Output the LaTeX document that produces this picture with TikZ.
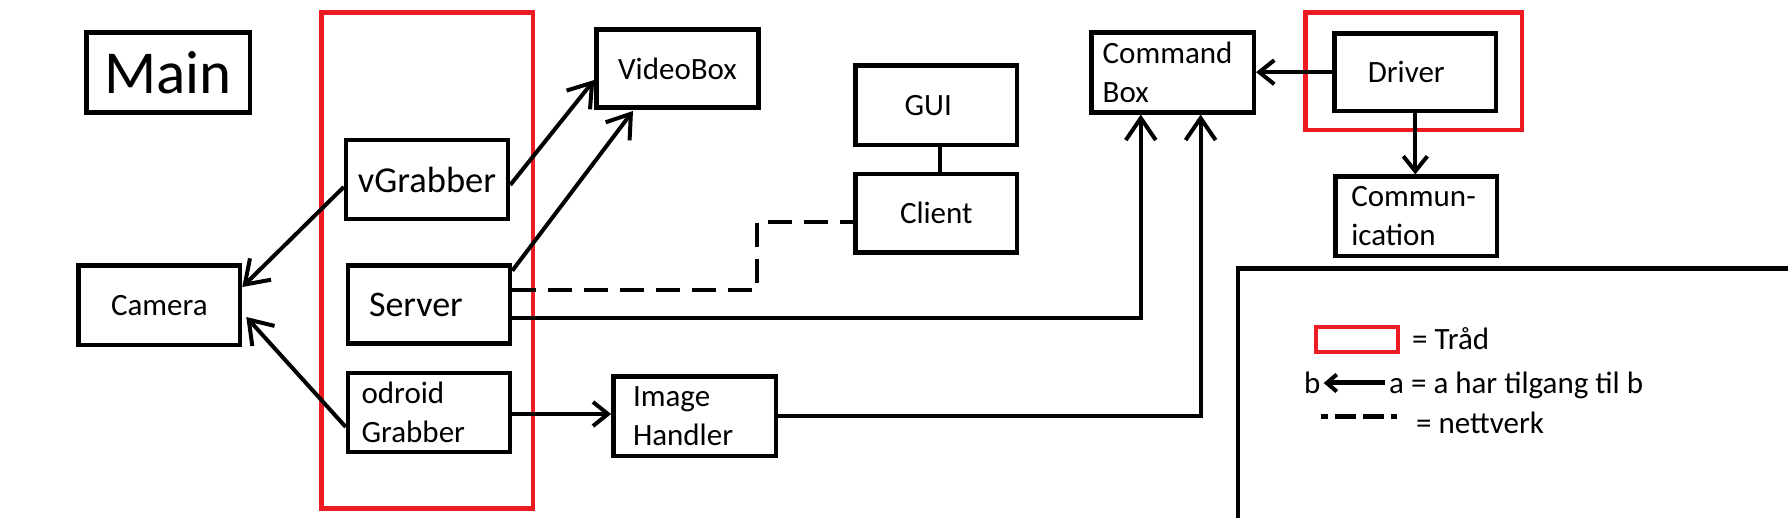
\documentclass[tikz,border=0pt]{standalone}
\usepackage{fontspec}
\setmainfont{Carlito}
\usetikzlibrary{arrows.meta,calc}
\definecolor{paintred}{RGB}{237,28,36}
\tikzset{
  box/.style={draw, line width=4.5pt, inner sep=0pt, font=\fontsize{31}{38.5}\selectfont},
  redframe/.style={draw=paintred, line width=4.5pt},
  conn/.style={line width=4pt},
  arr/.style={conn, -{Straight Barb[length=22pt,width=30pt,line width=4pt]}},
  arrsmall/.style={conn, -{Straight Barb[length=15pt,width=24pt,line width=4pt]}},
  legarr/.style={line width=5pt, -{Straight Barb[length=10pt,width=17pt,line width=4pt]}},
  net/.style={conn, dash pattern=on 24pt off 12pt},
  legtext/.style={anchor=base west, inner sep=0pt, font=\fontsize{31}{38.5}\selectfont},
}
\begin{document}
\begin{tikzpicture}[x=1pt,y=-1pt]
\useasboundingbox (0,0) rectangle (1788,518);
% thread frames
\draw[redframe] (321.5,12.7) rectangle (533,508.3);
\draw[redframe] (1305.5,12.7) rectangle (1522,130);
% boxes
\node[box, minimum width=163.5pt, minimum height=80pt, font=\fontsize{61}{70}\selectfont] (main) at (168,72.3) {Main};
\node[box, minimum width=161.5pt, minimum height=79.3pt] (cam) at (159.3,305.4) {Camera};
\node[box, minimum width=162pt, minimum height=79pt, font=\fontsize{36.5}{44}\selectfont] (vg) at (427,179.5) {vGrabber};
\node[box, minimum width=162pt, minimum height=77.6pt, font=\fontsize{36}{44}\selectfont, text width=120pt, align=left] (srv) at (429,304.5) {Server};
\node[box, minimum width=162pt, minimum height=79pt, text width=134.8pt, align=left] (odr) at (429,412.5) {odroid\\Grabber};
\node[box, minimum width=162pt, minimum height=78.4pt] (vb) at (677.5,68.5) {VideoBox};
\node[box, minimum width=161.5pt, minimum height=79.3pt, text width=63.5pt, align=left] (gui) at (936.3,105.3) {GUI};
\node[box, minimum width=161.5pt, minimum height=78.7pt] (cli) at (936.3,213.3) {Client};
\node[box, minimum width=162.6pt, minimum height=79.3pt, text width=123.4pt, align=left] (ih) at (694.7,416.3) {Image\\Handler};
\node[box, minimum width=162.4pt, minimum height=80pt, text width=139.8pt, align=left] (cb) at (1172.6,72.3) {Command\\Box};
\node[box, minimum width=161.3pt, minimum height=77.7pt, text width=95pt, align=left] (drv) at (1415.3,72.2) {Driver};
\node[box, minimum width=161.4pt, minimum height=79.3pt, text width=130pt, align=left] (com) at (1416.3,216.3) {Commun-\\ication};
% connectors
\draw[arr] ([yshift=-7.5pt]vg.west) -- ([yshift=18.4pt]cam.east);
\draw[arr] ([yshift=-14.5pt]odr.west) -- ([xshift=4pt,yshift=-11.6pt]cam.east);
\draw[arr] ([yshift=-5.5pt]vg.east) -- ([yshift=-11.5pt]vb.west);
\draw[arr] ([yshift=-7.3pt]srv.north east) -- ([xshift=-44.5pt,yshift=-1pt]vb.south);
\coordinate (netbend) at (757,221.7);
\draw[net] ([yshift=14.5pt]srv.east) -| (netbend) -- ([yshift=-8.4pt]cli.west);
\draw[arr] ([yshift=-13.5pt]srv.east) -| ([xshift=-31.8pt]cb.south);
\draw[arrsmall] ([yshift=-1.5pt]odr.east) -- ([yshift=-1.5pt]odr.east -| ih.west);
\draw[arr] (ih.east) -| ([xshift=28pt]cb.south);
\draw[arrsmall] (drv.west) -- (drv.west -| cb.east);
\draw[arrsmall] (drv.south) -- (drv.south |- com.north);
\draw[conn] ([xshift=3.4pt]gui.south) -- ([xshift=3.4pt]cli.north);
% legend
\coordinate (legcorner) at (1238,268.7);
\draw[line width=4.5pt] (legcorner |- 0,518) -- (legcorner) -- (legcorner -| 1788,0);
\draw[redframe, line width=4pt] (1316,326.7) rectangle (1398,352.3);
\node[legtext] (l1) at (1412,350) {= Tråd};
\node[legtext] (lb) at (1304,394) {b};
\node[legtext] (la) at (1389,394) {a = a har tilgang til b};
\draw[legarr] ([xshift=-4pt,yshift=11pt]la.base west) -- ([xshift=3pt,yshift=11pt]lb.base east);
\draw[line width=5pt, dash pattern=on 21pt off 7pt, dash phase=14pt] (1320.6,416.7) -- (1397,416.7);
\node[legtext] (l3) at (1416,433.3) {= nettverk};
\end{tikzpicture}
\end{document}
